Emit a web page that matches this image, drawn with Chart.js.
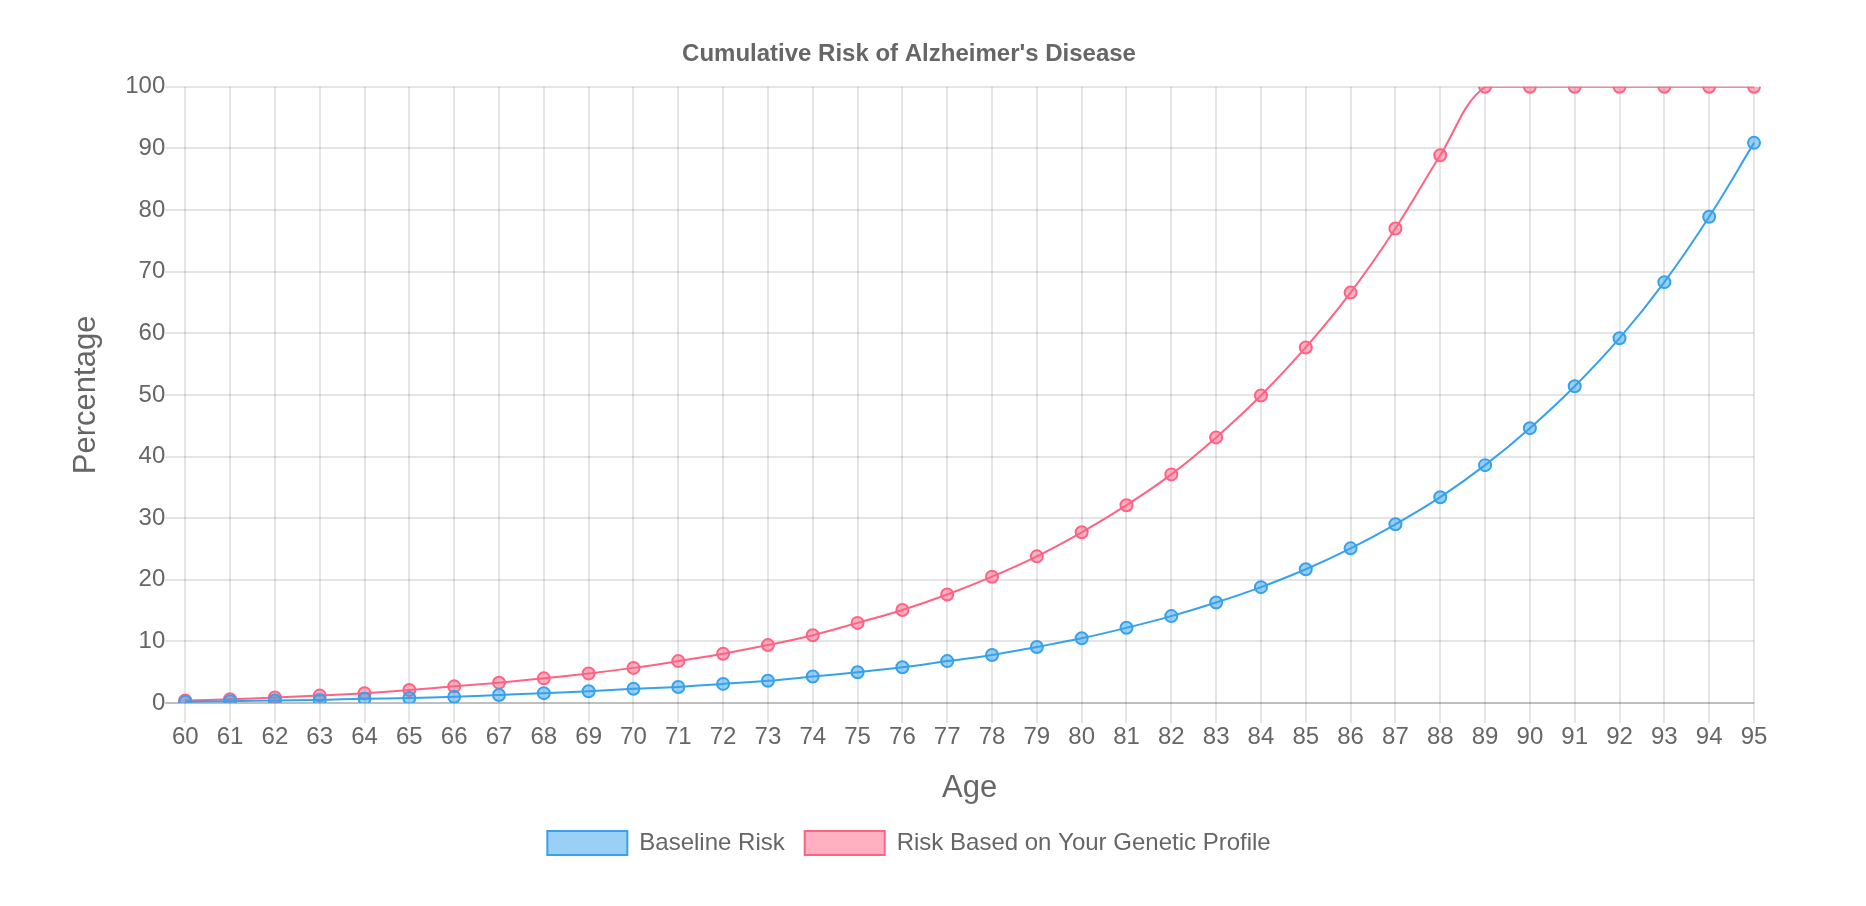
<!DOCTYPE html>
<html>
<head>
<meta charset="utf-8">
<script src="https://cdn.jsdelivr.net/npm/chart.js@4.4.1/dist/chart.umd.min.js"></script>
<style>
html,body{margin:0;padding:0;background:#fff;}
#wrap{width:1866px;height:906px;position:relative;}
</style>
</head>
<body>
<div id="wrap"><canvas id="c"></canvas></div>
<script>
const ages = [60,61,62,63,64,65,66,67,68,69,70,71,72,73,74,75,76,77,78,79,80,81,82,83,84,85,86,87,88,89,90,91,92,93,94,95];
const baselineRisk = [0.2,0.3,0.4,0.5,0.7,0.8,1.0,1.3,1.6,1.9,2.3,2.6,3.1,3.6,4.3,5.0,5.8,6.8,7.8,9.1,10.5,12.2,14.1,16.3,18.8,21.7,25.1,29.0,33.4,38.6,44.6,51.4,59.2,68.3,78.9,90.9];
const geneticRisk = [0.4,0.6,0.9,1.2,1.6,2.1,2.7,3.3,4.0,4.8,5.7,6.8,8.0,9.4,11.0,13.0,15.1,17.6,20.5,23.8,27.7,32.1,37.1,43.1,49.9,57.7,66.6,77.0,88.9,100,100,100,100,100,100,100];
const yTicks = [0,10,20,30,40,50,60,70,80,90,100];

Chart.defaults.font.family = "'Liberation Sans', Arial, Helvetica, sans-serif";
Chart.defaults.color = '#666';

const gridColor = ctx => (ctx.tick && ctx.tick.value === 0) ? 'rgba(0,0,0,0.25)' : 'rgba(0,0,0,0.1)';

new Chart(document.getElementById('c'), {
  type: 'line',
  data: {
    labels: ages,
    datasets: [
      {
        label: 'Baseline Risk',
        data: baselineRisk,
        borderColor: 'rgb(54,162,235)',
        backgroundColor: 'rgba(54,162,235,0.5)',
        borderWidth: 2,
        pointRadius: 6,
        pointBorderWidth: 2,
        tension: 0.4,
        fill: false
      },
      {
        label: 'Risk Based on Your Genetic Profile',
        data: geneticRisk,
        borderColor: 'rgb(255,99,132)',
        backgroundColor: 'rgba(255,99,132,0.5)',
        borderWidth: 2,
        pointRadius: 6,
        pointBorderWidth: 2,
        tension: 0.4,
        fill: false
      }
    ]
  },
  options: {
    responsive: true,
    maintainAspectRatio: false,
    animation: false,
    layout: { padding: { left: 64, right: 112, top: 30, bottom: 41 } },
    elements: { line: { capBezierPoints: true } },
    plugins: {
      title: {
        display: true,
        text: "Cumulative Risk of Alzheimer's Disease",
        font: { size: 24, weight: 'bold' },
        color: '#666',
        padding: { top: 10, bottom: 18 }
      },
      legend: {
        position: 'bottom',
        labels: { boxWidth: 80, boxHeight: 24, font: { size: 24 }, padding: 20, color: '#666' }
      },
      tooltip: { enabled: false }
    },
    scales: {
      x: {
        title: { display: true, text: 'Age', font: { size: 31 }, color: '#666', padding: { top: 18, bottom: 4 } },
        grid: { color: 'rgba(0,0,0,0.1)', lineWidth: 2, tickLength: 20 },
        border: { display: false },
        ticks: { font: { size: 24 }, color: '#666', padding: 0, autoSkip: false, maxRotation: 0 }
      },
      y: {
        min: 0, max: 100,
        title: { display: true, text: 'Percentage', font: { size: 31 }, color: '#666', padding: { top: 4, bottom: 20 } },
        grid: { color: gridColor, lineWidth: 2, tickLength: 20 },
        border: { display: false },
        afterBuildTicks: axis => { axis.ticks = yTicks.map(v => ({ value: v })); },
        ticks: { font: { size: 24 }, color: '#666', padding: 0 }
      }
    }
  }
});
</script>
</body>
</html>
